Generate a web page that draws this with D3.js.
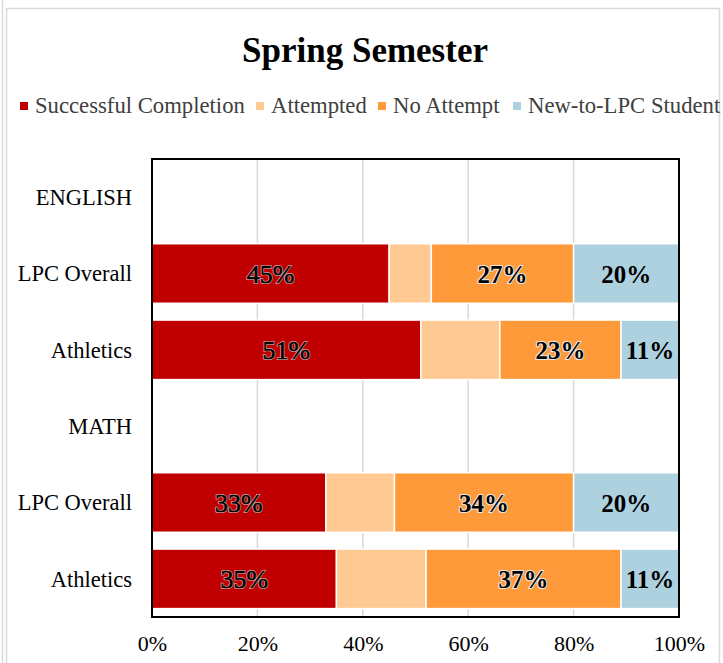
<!DOCTYPE html>
<html>
<head>
<meta charset="utf-8">
<script src="https://cdn.jsdelivr.net/npm/d3@7"></script>
<style>
  body { margin: 0; background: #fff; }
  svg { font-family: "Liberation Serif", "Times New Roman", serif; }
</style>
</head>
<body>
<svg id="chart" width="723" height="663"></svg>
<script>
// Chart data
const categories = ["ENGLISH", "LPC Overall", "Athletics", "MATH", "LPC Overall ", "Athletics "];
const seriesNames = ["Successful Completion", "Attempted", "No Attempt", "New-to-LPC Student"];
const seriesColors = ["#c00000", "#ffc993", "#ff9a3a", "#aed1e0"];
const successful = [null, 45, 51, null, 33, 35];
const attempted = [null, 8, 15, null, 13, 17];
const noAttempt = [null, 27, 23, null, 34, 37];
const newStudent = [null, 20, 11, null, 20, 11];
const showLabel = [true, false, true, true];
const tickValues = [0, 0.2, 0.4, 0.6, 0.8, 1];

const svg = d3.select('#chart');

// outer chart frame
svg.append('line').attr('x1', 2.5).attr('x2', 2.5).attr('y1', 0).attr('y2', 663)
    .attr('stroke', '#d9d9d9').attr('stroke-width', 1.5);
svg.append('rect').attr('x', 6.5).attr('y', 8.5).attr('width', 713).attr('height', 670)
    .attr('fill', 'none').attr('stroke', '#d9d9d9').attr('stroke-width', 1.5);

// title
svg.append('text')
    .attr('x', 365).attr('y', 62)
    .attr('text-anchor', 'middle')
    .style('font-size', '35px').style('font-weight', 'bold')
    .text('Spring Semester');

// legend
const legendX = [20, 256, 378, 513];
const legend = svg.append('g');
seriesNames.forEach((name, i) => {
    legend.append('rect')
        .attr('x', legendX[i]).attr('y', 102).attr('width', 8).attr('height', 8)
        .attr('fill', seriesColors[i]);
    legend.append('text')
        .attr('x', legendX[i] + 15).attr('y', 113)
        .attr('fill', '#404040')
        .style('font-size', '22.7px')
        .text(name);
});

// plot area
const plotLeft = 152, plotRight = 679, plotTop = 159, plotBottom = 617;

const x = d3.scaleLinear().domain([0, 1]).range([plotLeft, plotRight]);
const y = d3.scaleBand().domain(categories).range([plotTop, plotBottom]).paddingInner(0.22).paddingOuter(0.11);

// gridlines
svg.append('g')
    .selectAll('line')
    .data(tickValues.slice(1, -1))
    .enter()
    .append('line')
    .attr('x1', d => x(d)).attr('x2', d => x(d))
    .attr('y1', plotTop).attr('y2', plotBottom)
    .attr('stroke', '#d9d9d9').attr('stroke-width', 1.5);

// stack data
const rows = categories.map((c, i) => ({
    cat: c,
    vals: [successful[i], attempted[i], noAttempt[i], newStudent[i]]
}));

const segs = [];
rows.forEach(r => {
    if (r.vals[0] == null) return;
    let acc = 0;
    r.vals.forEach((v, k) => {
        segs.push({ cat: r.cat, k: k, x0: acc / 100, x1: (acc + v) / 100, v: v });
        acc += v;
    });
});

const barG = svg.append('g');
barG.selectAll('rect')
    .data(segs)
    .enter()
    .append('rect')
    .attr('x', d => x(d.x0))
    .attr('y', d => y(d.cat))
    .attr('width', d => x(d.x1) - x(d.x0))
    .attr('height', y.bandwidth())
    .attr('fill', d => seriesColors[d.k])
    .attr('stroke', '#fff').attr('stroke-width', 1.5);

// data labels: a soft halo underneath, black text on top
const labelled = segs.filter(d => showLabel[d.k]);
const haloColor = ['#d9a0a0', null, '#e8e8e8', null];
['halo', 'text'].forEach(layer => {
    barG.selectAll('text.' + layer)
        .data(labelled.filter(d => layer === 'text' || d.k !== 3))
        .enter()
        .append('text')
        .attr('class', layer)
        .attr('x', d => (x(d.x0) + x(d.x1)) / 2)
        .attr('y', d => y(d.cat) + y.bandwidth() / 2 + 9)
        .attr('text-anchor', 'middle')
        .style('font-size', d => d.k === 0 ? '26px' : '25px')
        .style('font-weight', d => d.k === 0 ? 'normal' : 'bold')
        .attr('fill', d => layer === 'halo' ? haloColor[d.k] : '#000')
        .attr('stroke', d => layer === 'halo' ? haloColor[d.k] : (d.k === 0 ? '#000' : 'none'))
        .attr('stroke-width', layer === 'halo' ? 2 : 0.6)
        .text(d => d.v + '%');
});

// frame of plot area
svg.append('rect')
    .attr('x', plotLeft).attr('y', plotTop)
    .attr('width', plotRight - plotLeft).attr('height', plotBottom - plotTop)
    .attr('fill', 'none').attr('stroke', '#000').attr('stroke-width', 2);

// category axis
const yAxis = svg.append('g')
    .attr('transform', `translate(${plotLeft},0)`)
    .call(d3.axisLeft(y).tickSize(0).tickPadding(20).tickFormat(d => d.trim()));
yAxis.select('.domain').remove();
yAxis.selectAll('text')
    .attr('font-family', '"Liberation Serif", "Times New Roman", serif')
    .style('font-size', '22.5px')
    .attr('fill', '#000')
    .attr('dy', '0.35em');

// value axis
const xAxis = svg.append('g')
    .attr('transform', `translate(0,${plotBottom})`)
    .call(d3.axisBottom(x).tickValues(tickValues).tickSize(0).tickPadding(18).tickFormat(d3.format('.0%')));
xAxis.select('.domain').remove();
xAxis.selectAll('text')
    .attr('font-family', '"Liberation Serif", "Times New Roman", serif')
    .style('font-size', '22px')
    .attr('fill', '#000');
</script>
</body>
</html>
